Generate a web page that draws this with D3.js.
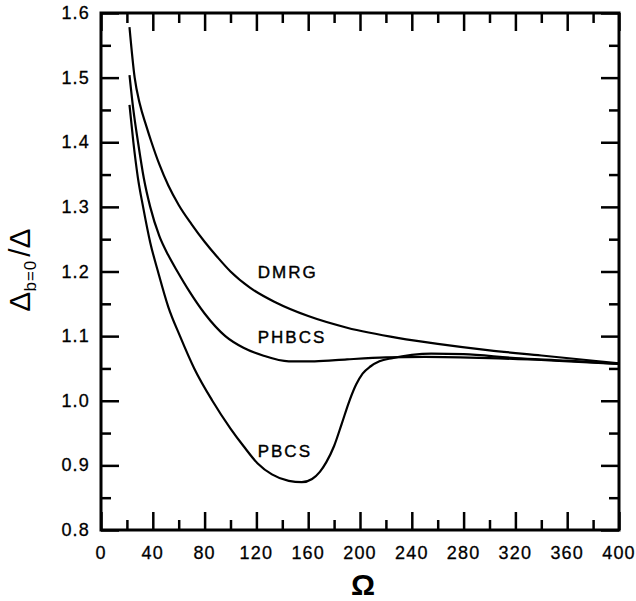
<!DOCTYPE html>
<html>
<head>
<meta charset="utf-8">
<script src="https://cdn.jsdelivr.net/npm/d3@7"></script>
<style>
  body { margin: 0; background: #fff; }
  svg { display: block; }
  text { font-family: "Liberation Sans", Arial, sans-serif; fill: #000; }
</style>
</head>
<body>
<svg id="chart" width="636" height="601"></svg>
<script>
// ======================================================================
// DATA
// ======================================================================

var xTicks = [0, 40, 80, 120, 160, 200, 240, 280, 320, 360, 400];
var yTicks = [0.8, 0.9, 1.0, 1.1, 1.2, 1.3, 1.4, 1.5, 1.6];

var dmrgOmega = [22, 26, 30, 35, 39, 45, 52, 60, 70, 80, 90, 100, 115, 135, 160, 190, 230, 260, 300, 340, 400];
var dmrgValue = [1.578, 1.500, 1.459, 1.425, 1.400, 1.366, 1.333, 1.303, 1.273, 1.246, 1.222, 1.200, 1.175, 1.152, 1.131, 1.113, 1.097, 1.088, 1.078, 1.070, 1.058];

var phbcsOmega = [22, 25, 28.6, 33, 38, 45, 52, 59, 68, 80, 96, 110, 125, 145, 165, 190, 220, 250, 300, 350, 400];
var phbcsValue = [1.504, 1.450, 1.400, 1.345, 1.300, 1.255, 1.225, 1.200, 1.170, 1.135, 1.100, 1.082, 1.070, 1.061, 1.061, 1.064, 1.067, 1.068, 1.066, 1.062, 1.057];

var pbcsOmega = [22, 25, 28.5, 32.5, 38, 44, 52, 61, 72, 86, 100, 110, 121, 132, 145, 155, 163, 169, 174, 180, 186, 191.5, 197, 202, 208, 215, 225, 240, 255, 280, 320, 360, 400];
var pbcsValue = [1.458, 1.400, 1.345, 1.300, 1.245, 1.200, 1.145, 1.100, 1.050, 1.000, 0.957, 0.930, 0.903, 0.886, 0.876, 0.874, 0.879, 0.890, 0.905, 0.930, 0.965, 0.998, 1.025, 1.042, 1.053, 1.061, 1.066, 1.071, 1.073, 1.072, 1.066, 1.062, 1.057];

var curveNames = ["DMRG", "PHBCS", "PBCS"];
var labelOmega = [121, 121, 121];
var labelValue = [1.190, 1.089, 0.913];

// ======================================================================
// SETUP
// ======================================================================

var svg = d3.select("#chart");
var plotLeft = 101, plotRight = 619, plotTop = 13, plotBottom = 530;

var x = d3.scaleLinear().domain([0, 400]).range([plotLeft, plotRight]);
var y = d3.scaleLinear().domain([0.8, 1.6]).range([plotBottom, plotTop]);

function zip(a, b) {
    return a.map(function(d, i) { return [d, b[i]]; });
}
var series = [zip(dmrgOmega, dmrgValue), zip(phbcsOmega, phbcsValue), zip(pbcsOmega, pbcsValue)];

// ======================================================================
// CURVES
// ======================================================================

var line = d3.line()
    .x(function(d) { return x(d[0]); })
    .y(function(d) { return y(d[1]); })
    .curve(d3.curveMonotoneX);

svg.append("g").selectAll("path")
    .data(series)
    .enter().append("path")
    .attr("d", line)
    .attr("fill", "none")
    .attr("stroke", "#000")
    .attr("stroke-width", 2.2);

svg.append("g").selectAll("text")
    .data(curveNames)
    .enter().append("text")
    .attr("x", function(d, i) { return x(labelOmega[i]); })
    .attr("y", function(d, i) { return y(labelValue[i]); })
    .attr("font-size", 17)
    .attr("letter-spacing", 2)
    .attr("stroke", "#000")
    .attr("stroke-width", 0.4)
    .text(function(d) { return d; });

// ======================================================================
// AXES (ticks on all four sides, pointing inward)
// ======================================================================

var xMinor = d3.range(20, 400, 40);
var yMinor = d3.range(0.85, 1.6, 0.1);

function drawAxis(axis, pos, ticks, size) {
    svg.append("g")
        .attr("transform", pos)
        .call(axis.tickValues(ticks).tickSize(size).tickFormat(""))
        .call(function(g) { g.select(".domain").remove(); })
        .selectAll("line").attr("stroke", "#000").attr("stroke-width", 2.5);
}

drawAxis(d3.axisTop(x), "translate(0," + plotBottom + ")", xTicks, 18);
drawAxis(d3.axisTop(x), "translate(0," + plotBottom + ")", xMinor, 10);
drawAxis(d3.axisBottom(x), "translate(0," + plotTop + ")", xTicks, 18);
drawAxis(d3.axisBottom(x), "translate(0," + plotTop + ")", xMinor, 10);
drawAxis(d3.axisRight(y), "translate(" + plotLeft + ",0)", yTicks, 18);
drawAxis(d3.axisRight(y), "translate(" + plotLeft + ",0)", yMinor, 10);
drawAxis(d3.axisLeft(y), "translate(" + plotRight + ",0)", yTicks, 18);
drawAxis(d3.axisLeft(y), "translate(" + plotRight + ",0)", yMinor, 10);

svg.append("rect")
    .attr("x", plotLeft).attr("y", plotTop)
    .attr("width", plotRight - plotLeft).attr("height", plotBottom - plotTop)
    .attr("fill", "none").attr("stroke", "#000").attr("stroke-width", 3);

// tick labels
svg.append("g").selectAll("text")
    .data(xTicks)
    .enter().append("text")
    .attr("x", function(d) { return x(d); })
    .attr("y", plotBottom + 29)
    .attr("text-anchor", "middle")
    .attr("font-size", 18)
    .attr("letter-spacing", 1.2)
    .attr("stroke", "#000")
    .attr("stroke-width", 0.3)
    .text(function(d) { return d; });

svg.append("g").selectAll("text")
    .data(yTicks)
    .enter().append("text")
    .attr("x", plotLeft - 11)
    .attr("y", function(d) { return y(d) + 6; })
    .attr("text-anchor", "end")
    .attr("font-size", 18)
    .attr("letter-spacing", 1.2)
    .attr("stroke", "#000")
    .attr("stroke-width", 0.3)
    .text(function(d) { return d.toFixed(1); });

// axis titles
svg.append("text")
    .attr("x", (plotLeft + plotRight) / 2 + 3)
    .attr("y", 595)
    .attr("text-anchor", "middle")
    .attr("font-family", "'Liberation Serif', 'DejaVu Serif', serif")
    .attr("font-weight", "bold")
    .attr("font-size", 30)
    .text("Ω");

var yTitle = svg.append("text")
    .attr("transform", "translate(30,270) rotate(-90)")
    .attr("text-anchor", "middle")
    .attr("font-size", 30);
yTitle.append("tspan").text("Δ");
yTitle.append("tspan").attr("font-size", 17).attr("dy", 6).attr("letter-spacing", 1).text("b=0");
yTitle.append("tspan").attr("dy", -6).attr("dx", 3).text("/Δ");
</script>
</body>
</html>
